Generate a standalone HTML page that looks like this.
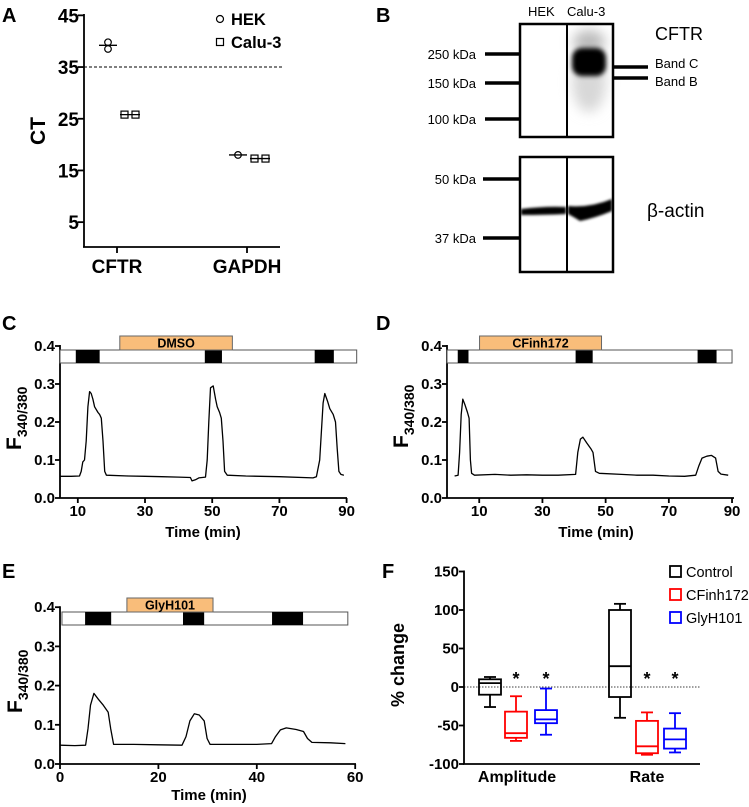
<!DOCTYPE html>
<html><head><meta charset="utf-8"><style>
html,body{margin:0;padding:0;background:#fff;}
svg{display:block;font-family:"Liberation Sans",Arial,sans-serif;}
.b{font-weight:bold;}
</style></head><body>
<svg id="fig" width="749" height="807" viewBox="0 0 749 807" xmlns="http://www.w3.org/2000/svg">
<defs>
<filter id="blur3" x="-50%" y="-50%" width="200%" height="200%"><feGaussianBlur stdDeviation="2.5"/></filter>
<filter id="blur1" x="-50%" y="-50%" width="200%" height="200%"><feGaussianBlur stdDeviation="1.2"/></filter>
<filter id="blur6" x="-50%" y="-50%" width="200%" height="200%"><feGaussianBlur stdDeviation="6"/></filter>
</defs>
<text x="2" y="22" font-size="20" class="b">A</text>
<text x="376" y="22" font-size="20" class="b">B</text>
<text x="2" y="330" font-size="20" class="b">C</text>
<text x="376" y="330" font-size="20" class="b">D</text>
<text x="2" y="578" font-size="20" class="b">E</text>
<text x="382" y="578" font-size="20" class="b">F</text>

<g>
<text x="528" y="16" font-size="13">HEK</text>
<text x="567" y="16" font-size="13">Calu-3</text>
<g>
<rect x="520" y="24" width="93" height="113" fill="#fff"/>
<ellipse cx="589" cy="82" rx="17" ry="30" fill="#d8d8d8" filter="url(#blur6)"/>
<ellipse cx="589" cy="42" rx="16" ry="12" fill="#bbb" filter="url(#blur6)"/>
<rect x="572" y="48" width="34" height="28" rx="10" fill="#000" filter="url(#blur3)"/>
<rect x="520" y="24" width="93" height="113" fill="none" stroke="#000" stroke-width="2.5"/>
<line x1="567" y1="24" x2="567" y2="137" stroke="#000" stroke-width="2"/>
</g>
<g>
<rect x="520" y="157" width="93" height="115" fill="#fff"/>
<path d="M521,209 Q545,206 566,207 L566,214 Q545,215 521,215 Z" fill="#000" filter="url(#blur1)"/>
<path d="M568,206 Q590,208 612,199 L612,211 Q595,218 580,221 Q572,216 568,214 Z" fill="#000" filter="url(#blur1)"/>
<rect x="520" y="157" width="93" height="115" fill="none" stroke="#000" stroke-width="2.5"/>
<line x1="567" y1="157" x2="567" y2="272" stroke="#000" stroke-width="2"/>
</g>
<g stroke="#000" stroke-width="3.5">
<line x1="485" y1="54" x2="520" y2="54"/><line x1="485" y1="83" x2="520" y2="83"/><line x1="485" y1="119" x2="520" y2="119"/>
<line x1="483" y1="179" x2="520" y2="179"/><line x1="483" y1="238" x2="520" y2="238"/>
<line x1="613" y1="67" x2="648" y2="67"/><line x1="613" y1="78" x2="648" y2="78"/>
</g>
<g font-size="13" text-anchor="end">
<text x="476" y="59">250 kDa</text>
<text x="476" y="88">150 kDa</text>
<text x="476" y="124">100 kDa</text>
<text x="476" y="184">50 kDa</text>
<text x="476" y="243">37 kDa</text>
</g>
<text x="655" y="40" font-size="18">CFTR</text>
<text x="655" y="68" font-size="13">Band C</text>
<text x="655" y="86" font-size="13">Band B</text>
<text x="647" y="217" font-size="19">β-actin</text>
</g>
<g id="gA"></g>
<g id="gC"></g>
<g id="gD"></g>
<g id="gE"></g>
<g id="gF"></g>
</svg>
<script>
// ---------- Panel A data ----------
const aCategories = ["CFTR", "GAPDH"];
const aTicks = [5, 15, 25, 35, 45];
const aHekValues = [[39.8, 38.5], [18.0]];
const aCaluValues = [[25.8, 25.8], [17.3, 17.3]];
const aHekMeans = [39.2, 18.0];
const aCaluMeans = [25.8, 17.3];
const aThreshold = 35;

// ---------- Trace data ----------
const cTrace = [[4.7,.057],[8,.057],[10.5,.058],[11,.07],[11.5,.095],[12,.1],[12.5,.15],[13,.24],[13.5,.28],[14,.275],[14.5,.26],[15,.24],[16,.225],[16.5,.22],[17,.21],[17.5,.15],[18,.07],[18.5,.06],[25,.058],[30,.057],[35,.056],[40,.055],[43.5,.054],[44,.045],[45,.048],[46,.053],[48,.055],[48.5,.1],[49,.2],[49.5,.29],[50.3,.295],[51,.26],[51.5,.24],[52.2,.225],[52.7,.21],[53.2,.15],[53.7,.07],[54.5,.06],[60,.058],[70,.056],[80,.053],[81,.056],[82,.1],[83,.25],[83.5,.275],[84.3,.255],[85,.235],[86,.22],[86.7,.2],[87.2,.13],[87.7,.07],[88.3,.062],[89.2,.06]];
const cBlocks = [[9.4,16.5],[47.8,52.9],[80.5,86.2]];
const cDrug = [22.5, 56, "DMSO"];
const cXTicks = [10, 30, 50, 70, 90];

const dTrace = [[2.2,.058],[3.3,.06],[3.8,.12],[4.3,.22],[4.8,.26],[5.5,.245],[6.3,.225],[6.8,.21],[7.2,.1],[7.6,.065],[8.5,.06],[15,.062],[20,.06],[25,.061],[30,.06],[35,.06],[40.5,.062],[41.2,.12],[42,.155],[42.8,.16],[44,.145],[45.3,.13],[46,.12],[46.8,.07],[48,.065],[55,.062],[60,.06],[65,.06],[70,.058],[75,.057],[78.5,.06],[79.5,.085],[80.5,.105],[82,.11],[83.5,.112],[84.8,.105],[85.6,.07],[86.5,.063],[88.8,.06]];
const dBlocks = [[3.2,6.6],[40.5,45.9],[79.1,85.1]];
const dDrug = [10.1, 48.7, "CFinh172"];
const dXTicks = [10, 30, 50, 70, 90];

const eTrace = [[0,.048],[3,.047],[5.2,.048],[5.7,.09],[6.2,.15],[6.9,.18],[7.8,.165],[8.8,.15],[9.8,.132],[10.3,.09],[10.9,.05],[15,.05],[20,.049],[24.8,.048],[25.6,.07],[26.4,.11],[27.3,.128],[28.3,.125],[29.3,.11],[29.9,.065],[30.5,.05],[35,.05],[40,.05],[43,.052],[43.8,.07],[44.8,.087],[46,.092],[48,.088],[49.5,.083],[50.3,.065],[51.2,.055],[55,.054],[58,.052]];
const eBlocks = [[5.1,10.4],[25,29.3],[43.1,49.4]];
const eDrug = [13.6, 31.1, "GlyH101"];
const eXTicks = [0, 20, 40, 60];
const traceYTicks = [0.0, 0.1, 0.2, 0.3, 0.4];

// ---------- Panel F data ----------
const fGroups = ["Amplitude", "Rate"];
const fSeries = ["Control", "CFinh172", "GlyH101"];
const fMin = [[-26, -70, -62], [-40, -88, -85]];
const fQ1 = [[-10, -66, -47], [-13, -86, -80]];
const fMedian = [[5, -60, -42], [27, -77, -68]];
const fQ3 = [[10, -32, -30], [100, -44, -54]];
const fMax = [[13, -12, -2], [108, -33, -34]];
const fSignificant = [[false, true, true], [false, true, true]];
const fYTicks = [-100, -50, 0, 50, 100, 150];

const NS = "http://www.w3.org/2000/svg";
function mk(parent, tag, attrs, text) {
  const el = document.createElementNS(NS, tag);
  for (const k in attrs) el.setAttribute(k, attrs[k]);
  if (text !== undefined) el.textContent = text;
  parent.appendChild(el);
  return el;
}

// ---------- Panel A ----------
(function () {
  const g = document.getElementById("gA");
  const y = v => 248 - v * 5.17;
  const xCat = [117, 247];
  const hekOff = -9, caluOff = 13;
  let el = mk(g, "line", {x1: 84, y1: 14, x2: 84, y2: 247, stroke: "#000", "stroke-width": 1.8});
  
  
  el = mk(g, "line", {x1: 83, y1: 247, x2: 280, y2: 247, stroke: "#000", "stroke-width": 1.8});
  
  
  aTicks.forEach(t => {
    mk(g, "line", {x1: 78, y1: y(t), x2: 84, y2: y(t), stroke: "#000", "stroke-width": 1.8});
    const tl = mk(g, "text", {x: 79, y: y(t) + 7, "font-size": 19, "font-weight": "bold", "text-anchor": "end"}, t);
    
    
  });
  aCategories.forEach((c, i) => {
    mk(g, "line", {x1: xCat[i], y1: 247, x2: xCat[i], y2: 253, stroke: "#000", "stroke-width": 1.8});
    const tl = mk(g, "text", {x: xCat[i], y: 273, "font-size": 19, "font-weight": "bold", "text-anchor": "middle"}, c);
    
    
    const hx = xCat[i] + hekOff;
    mk(g, "line", {x1: hx - 9, y1: y(aHekMeans[i]), x2: hx + 9, y2: y(aHekMeans[i]), stroke: "#000", "stroke-width": 1.3});
    aHekValues[i].forEach(v => {
      const p = mk(g, "circle", {cx: hx, cy: y(v), r: 3.3, fill: "none", stroke: "#000", "stroke-width": 1.2});
      
      
    });
    const cx = xCat[i] + caluOff;
    mk(g, "line", {x1: cx - 10, y1: y(aCaluMeans[i]), x2: cx + 10, y2: y(aCaluMeans[i]), stroke: "#000", "stroke-width": 1.3});
    aCaluValues[i].forEach((v, j) => {
      const px = cx + (j - (aCaluValues[i].length - 1) / 2) * 11;
      const p = mk(g, "rect", {x: px - 3.5, y: y(v) - 3.5, width: 7, height: 7, fill: "none", stroke: "#000", "stroke-width": 1.2});
      
      
    });
  });
  el = mk(g, "line", {x1: 84, y1: y(aThreshold), x2: 282, y2: y(aThreshold), stroke: "#000", "stroke-width": 1, "stroke-dasharray": "3,2"});
  
  
  el = mk(g, "text", {transform: "translate(45,131) rotate(-90)", "font-size": 21, "font-weight": "bold", "text-anchor": "middle"}, "CT");
  
  
  mk(g, "circle", {cx: 220, cy: 19, r: 3.5, fill: "none", stroke: "#000", "stroke-width": 1.2});
  el = mk(g, "text", {x: 231, y: 25, "font-size": 16.5, "font-weight": "bold"}, "HEK");
  
  
  mk(g, "rect", {x: 216.5, y: 38.5, width: 7, height: 7, fill: "none", stroke: "#000", "stroke-width": 1.2});
  el = mk(g, "text", {x: 231, y: 48, "font-size": 16.5, "font-weight": "bold"}, "Calu-3");
  
  
})();

// ---------- Trace panels ----------
function tracePanel(gid, o, trace, blocks, drug, xTicks) {
  const g = document.getElementById(gid);
  const x = t => o.ax + (t - o.t0) * o.k;
  const y = v => o.y0 - v * o.ky;
  let el = mk(g, "line", {x1: o.ax, y1: y(0.4) - 1, x2: o.ax, y2: o.y0, stroke: "#000", "stroke-width": 1.8});
  
  
  el = mk(g, "line", {x1: o.ax, y1: o.y0, x2: o.axEnd, y2: o.y0, stroke: "#000", "stroke-width": 1.8});
  
  
  traceYTicks.forEach(t => {
    mk(g, "line", {x1: o.ax - 5, y1: y(t), x2: o.ax, y2: y(t), stroke: "#000", "stroke-width": 1.8});
    const tl = mk(g, "text", {x: o.ax - 5, y: y(t) + 5, "font-size": 15, "font-weight": "bold", "text-anchor": "end"}, t.toFixed(1));
    
    
  });
  xTicks.forEach(t => {
    mk(g, "line", {x1: x(t), y1: o.y0, x2: x(t), y2: o.y0 + 5, stroke: "#000", "stroke-width": 1.8});
    const tl = mk(g, "text", {x: x(t), y: o.y0 + 18, "font-size": 15, "font-weight": "bold", "text-anchor": "middle"}, t);
    
    
  });
  el = mk(g, "rect", {x: x(o.s0), y: o.sy, width: x(o.s1) - x(o.s0), height: 13, fill: "#fff", stroke: "#555", "stroke-width": 1});
  
  
  blocks.forEach(b => {
    const r = mk(g, "rect", {x: x(b[0]), y: o.sy, width: x(b[1]) - x(b[0]), height: 13, fill: "#000"});
    
    
  });
  el = mk(g, "rect", {x: x(drug[0]), y: o.sy - 14, width: x(drug[1]) - x(drug[0]), height: 14, fill: "#f9bd7a", stroke: "#666", "stroke-width": 1});
  
  
  el = mk(g, "text", {x: (x(drug[0]) + x(drug[1])) / 2, y: o.sy - 2.5, "font-size": 12.5, "font-weight": "bold", "text-anchor": "middle"}, drug[2]);
  
  
  const d = trace.map((p, i) => (i ? "L" : "M") + x(p[0]).toFixed(1) + "," + y(p[1]).toFixed(1)).join(" ");
  el = mk(g, "path", {d: d, fill: "none", stroke: "#000", "stroke-width": 1.3, "stroke-linejoin": "round"});
  
  
  el = mk(g, "text", {x: o.tx, y: o.ty, "font-size": 15, "font-weight": "bold", "text-anchor": "middle"}, "Time (min)");
  
  
  const yt = mk(g, "text", {transform: "translate(" + o.lx + "," + o.ly + ") rotate(-90)", "font-size": 21, "font-weight": "bold"});
  
  
  mk(yt, "tspan", {}, "F");
  mk(yt, "tspan", {"font-size": 14, dy: 6}, "340/380");
}
tracePanel("gC", {ax: 60, axEnd: 347, t0: 4.7, k: 3.36, y0: 498, ky: 380, s0: 4.7, s1: 93, sy: 350, tx: 203, ty: 537, lx: 21, ly: 450}, cTrace, cBlocks, cDrug, cXTicks);
tracePanel("gD", {ax: 447, axEnd: 734, t0: -0.2, k: 3.16, y0: 498, ky: 380, s0: -0.2, s1: 90, sy: 350, tx: 596, ty: 537, lx: 408, ly: 448}, dTrace, dBlocks, dDrug, dXTicks);
tracePanel("gE", {ax: 60, axEnd: 356, t0: 0, k: 4.92, y0: 764, ky: 392, s0: 0.4, s1: 58.5, sy: 612, tx: 209, ty: 800, lx: 22, ly: 713}, eTrace, eBlocks, eDrug, eXTicks);

// ---------- Panel F ----------
(function () {
  const g = document.getElementById("gF");
  const y = v => 687 - v * 0.77;
  const colors = ["#000", "#f00", "#00f"];
  const groupX = [[490, 516, 546], [620, 647, 675]];
  const labelX = [517, 647];
  const w = 22;
  let el = mk(g, "line", {x1: 464, y1: y(150) - 1, x2: 464, y2: 764, stroke: "#000", "stroke-width": 1.8});
  
  
  el = mk(g, "line", {x1: 463, y1: 764, x2: 700, y2: 764, stroke: "#000", "stroke-width": 1.8});
  
  
  fYTicks.forEach(t => {
    mk(g, "line", {x1: 459, y1: y(t), x2: 464, y2: y(t), stroke: "#000", "stroke-width": 1.8});
    const tl = mk(g, "text", {x: 459, y: y(t) + 5, "font-size": 15, "font-weight": "bold", "text-anchor": "end"}, t);
    
    
  });
  el = mk(g, "line", {x1: 464, y1: y(0), x2: 700, y2: y(0), stroke: "#000", "stroke-width": 0.8, "stroke-dasharray": "1.5,1.5"});
  
  
  fGroups.forEach((grp, i) => {
    const tl = mk(g, "text", {x: labelX[i], y: 782, "font-size": 16, "font-weight": "bold", "text-anchor": "middle"}, grp);
    
    
    fSeries.forEach((s, j) => {
      const cx = groupX[i][j], c = colors[j];
      const bg = mk(g, "g", {stroke: c, "stroke-width": 1.8, fill: "none"});
      
      
      mk(bg, "line", {x1: cx, y1: y(fMax[i][j]), x2: cx, y2: y(fQ3[i][j])});
      mk(bg, "line", {x1: cx, y1: y(fMin[i][j]), x2: cx, y2: y(fQ1[i][j])});
      mk(bg, "line", {x1: cx - 6, y1: y(fMax[i][j]), x2: cx + 6, y2: y(fMax[i][j])});
      mk(bg, "line", {x1: cx - 6, y1: y(fMin[i][j]), x2: cx + 6, y2: y(fMin[i][j])});
      mk(bg, "rect", {x: cx - w / 2, y: y(fQ3[i][j]), width: w, height: y(fQ1[i][j]) - y(fQ3[i][j])});
      mk(bg, "line", {x1: cx - w / 2, y1: y(fMedian[i][j]), x2: cx + w / 2, y2: y(fMedian[i][j])});
      if (fSignificant[i][j]) {
        const a = mk(g, "text", {x: cx, y: y(0) - 2, "font-size": 18, "font-weight": "bold", "text-anchor": "middle"}, "*");
        
        
      }
    });
  });
  el = mk(g, "text", {transform: "translate(404,665) rotate(-90)", "font-size": 18, "font-weight": "bold", "text-anchor": "middle"}, "% change");
  
  
  fSeries.forEach((s, j) => {
    const ly = 566 + j * 23;
    mk(g, "rect", {x: 670, y: ly, width: 11, height: 11, fill: "none", stroke: colors[j], "stroke-width": 1.8});
    const t = mk(g, "text", {x: 686, y: ly + 11, "font-size": 14.5}, s);
    
    
  });
})();
</script>
</body></html>
